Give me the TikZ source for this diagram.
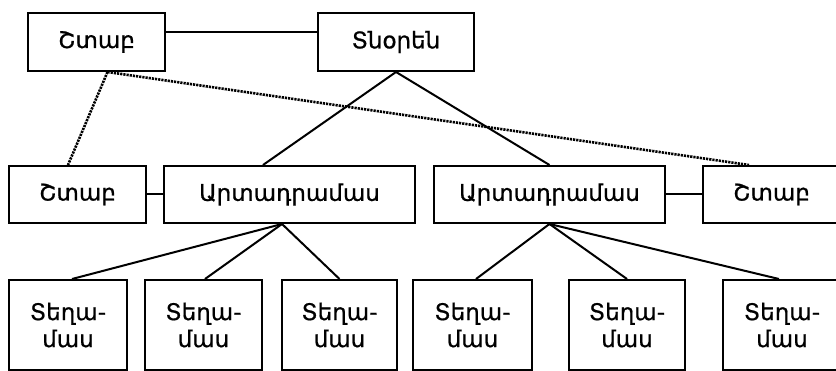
\documentclass[tikz,border=0pt]{standalone}
\usepackage{fontspec}
\setmainfont{DejaVu Sans}[BoldFont={DejaVu Sans},BoldFeatures={FakeBold=0.8}]
\begin{document}
\begin{tikzpicture}[x=1pt,y=-1pt,
  box/.style={draw,line width=2pt,inner sep=0pt,font=\fontsize{23}{27}\selectfont\bfseries},
  wide/.style={box,minimum height=57pt},
  tall/.style={box,minimum height=90pt,align=center},
  link/.style={line width=2pt},
  dots/.style={line width=2.6pt,dash pattern=on 2.2pt off 1pt}]
\useasboundingbox (0,0) rectangle (836,371);
\clip (0,0) rectangle (836,371);
% top row
\node[wide,minimum width=137pt,minimum height=58pt] (S1) at (96.5,42) {Շտաբ};
\node[wide,minimum width=156pt,minimum height=58pt] (TN) at (396,42) {Տնօրեն};
% middle row
\node[wide,minimum width=137pt] (S2) at (77.5,194.5) {Շտաբ};
\node[wide,minimum width=251pt] (A1) at (289.5,194.5) {Արտադրամաս};
\node[wide,minimum width=231pt] (A2) at (549.5,194.5) {Արտադրամաս};
\node[wide,minimum width=137pt] (S3) at (771.5,194.5) {Շտաբ};
% bottom row
\node[tall,minimum width=118pt] (T1) at (68,325) {Տեղա-\\մաս};
\node[tall,minimum width=117pt] (T2) at (203.5,325) {Տեղա-\\մաս};
\node[tall,minimum width=115pt] (T3) at (339.5,325) {Տեղա-\\մաս};
\node[tall,minimum width=119pt] (T4) at (472.5,325) {Տեղա-\\մաս};
\node[tall,minimum width=116pt] (T5) at (627,325) {Տեղա-\\մաս};
\node[tall,minimum width=118pt] (T6) at (782,325) {Տեղա-\\մաս};
% connectors
\draw[link] ([yshift=10pt]S1.east) -- ([yshift=10pt]TN.west);
\draw[link] (S2.east) -- (A1.west);
\draw[link] (A2.east) -- (S3.west);
\draw[link] (TN.south) -- ([xshift=-26.5pt]A1.north);
\draw[link] (TN.south) -- (A2.north);
\draw[link] ([xshift=-7.5pt]A1.south) -- ([xshift=4pt]T1.north);
\draw[link] ([xshift=-7.5pt]A1.south) -- ([xshift=1.5pt]T2.north);
\draw[link] ([xshift=-7.5pt]A1.south) -- (T3.north);
\draw[link] (A2.south) -- ([xshift=3.5pt]T4.north);
\draw[link] (A2.south) -- (T5.north);
\draw[link] (A2.south) -- ([xshift=-3pt]T6.north);
\draw[dots] ([xshift=11pt]S1.south) -- ([xshift=-9.5pt]S2.north);
\draw[dots] ([xshift=11pt]S1.south) -- ([xshift=-22.5pt]S3.north);
\end{tikzpicture}
\end{document}
